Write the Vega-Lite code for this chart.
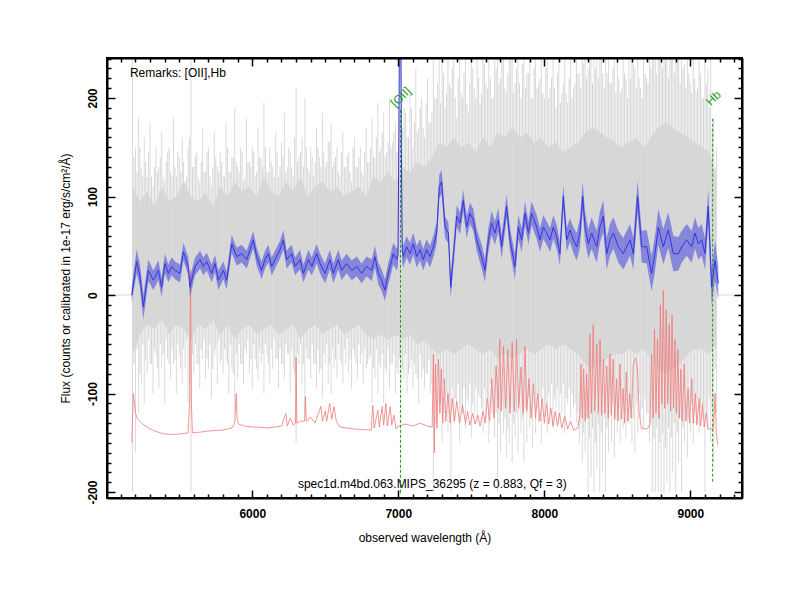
{
"$schema":"https://vega.github.io/schema/vega-lite/v6.json",
"width":635,"height":440,
"autosize":{"type":"none"},
"padding":{"left":107,"top":58,"right":58,"bottom":102},
"background":"white",
"config":{"view":{"stroke":"black","strokeWidth":2},"font":"Liberation Sans"},
"datasets":{
"core":[{"w":5180,"lo":-60,"hi":110},{"w":5230,"lo":-40,"hi":95},{"w":5280,"lo":-30,"hi":105},{"w":5330,"lo":-35,"hi":90},{"w":5380,"lo":-25,"hi":110},{"w":5430,"lo":-40,"hi":95},{"w":5480,"lo":-30,"hi":100},{"w":5530,"lo":-35,"hi":115},{"w":5580,"lo":-45,"hi":100},{"w":5630,"lo":-30,"hi":95},{"w":5680,"lo":-35,"hi":105},{"w":5730,"lo":-25,"hi":90},{"w":5780,"lo":-40,"hi":110},{"w":5830,"lo":-30,"hi":100},{"w":5880,"lo":-45,"hi":115},{"w":5930,"lo":-35,"hi":105},{"w":5980,"lo":-30,"hi":110},{"w":6030,"lo":-40,"hi":100},{"w":6080,"lo":-35,"hi":120},{"w":6130,"lo":-30,"hi":105},{"w":6180,"lo":-40,"hi":100},{"w":6230,"lo":-35,"hi":115},{"w":6280,"lo":-30,"hi":105},{"w":6330,"lo":-45,"hi":120},{"w":6380,"lo":-35,"hi":100},{"w":6430,"lo":-30,"hi":110},{"w":6480,"lo":-40,"hi":115},{"w":6530,"lo":-35,"hi":105},{"w":6580,"lo":-30,"hi":110},{"w":6630,"lo":-40,"hi":100},{"w":6680,"lo":-35,"hi":105},{"w":6730,"lo":-30,"hi":110},{"w":6780,"lo":-40,"hi":100},{"w":6830,"lo":-45,"hi":120},{"w":6880,"lo":-40,"hi":115},{"w":6930,"lo":-45,"hi":125},{"w":6980,"lo":-40,"hi":115},{"w":7030,"lo":-45,"hi":130},{"w":7080,"lo":-40,"hi":125},{"w":7130,"lo":-50,"hi":135},{"w":7180,"lo":-45,"hi":130},{"w":7230,"lo":-55,"hi":140},{"w":7280,"lo":-60,"hi":155},{"w":7330,"lo":-55,"hi":150},{"w":7380,"lo":-60,"hi":160},{"w":7430,"lo":-55,"hi":150},{"w":7480,"lo":-50,"hi":155},{"w":7530,"lo":-55,"hi":145},{"w":7580,"lo":-60,"hi":160},{"w":7630,"lo":-55,"hi":150},{"w":7680,"lo":-65,"hi":165},{"w":7730,"lo":-60,"hi":160},{"w":7780,"lo":-65,"hi":170},{"w":7830,"lo":-60,"hi":160},{"w":7880,"lo":-55,"hi":165},{"w":7930,"lo":-60,"hi":155},{"w":7980,"lo":-55,"hi":160},{"w":8030,"lo":-50,"hi":150},{"w":8080,"lo":-55,"hi":155},{"w":8130,"lo":-50,"hi":145},{"w":8180,"lo":-55,"hi":150},{"w":8230,"lo":-60,"hi":155},{"w":8280,"lo":-70,"hi":165},{"w":8330,"lo":-75,"hi":170},{"w":8380,"lo":-70,"hi":165},{"w":8430,"lo":-65,"hi":160},{"w":8480,"lo":-60,"hi":155},{"w":8530,"lo":-60,"hi":150},{"w":8580,"lo":-55,"hi":155},{"w":8630,"lo":-60,"hi":160},{"w":8680,"lo":-55,"hi":150},{"w":8730,"lo":-65,"hi":160},{"w":8780,"lo":-75,"hi":170},{"w":8830,"lo":-80,"hi":175},{"w":8880,"lo":-75,"hi":170},{"w":8930,"lo":-70,"hi":165},{"w":8980,"lo":-60,"hi":160},{"w":9030,"lo":-55,"hi":155},{"w":9080,"lo":-55,"hi":150},{"w":9130,"lo":-60,"hi":145},{"w":9180,"lo":-50,"hi":120}],
"spk":[{"w":5180,"lo":-200,"hi":240},{"w":5200,"lo":-160,"hi":150},{"w":5220,"lo":-120,"hi":180},{"w":5240,"lo":-90,"hi":130},{"w":5260,"lo":-110,"hi":160},{"w":5280,"lo":-80,"hi":120},{"w":5300,"lo":-70,"hi":175},{"w":5320,"lo":-100,"hi":110},{"w":5340,"lo":-60,"hi":150},{"w":5360,"lo":-95,"hi":130},{"w":5380,"lo":-75,"hi":165},{"w":5400,"lo":-110,"hi":115},{"w":5420,"lo":-65,"hi":145},{"w":5440,"lo":-85,"hi":125},{"w":5460,"lo":-70,"hi":180},{"w":5480,"lo":-100,"hi":120},{"w":5500,"lo":-60,"hi":140},{"w":5520,"lo":-90,"hi":160},{"w":5540,"lo":-75,"hi":115},{"w":5560,"lo":-110,"hi":150},{"w":5580,"lo":-200,"hi":240},{"w":5600,"lo":-80,"hi":130},{"w":5620,"lo":-70,"hi":145},{"w":5640,"lo":-95,"hi":115},{"w":5660,"lo":-65,"hi":170},{"w":5680,"lo":-85,"hi":125},{"w":5700,"lo":-75,"hi":150},{"w":5720,"lo":-105,"hi":110},{"w":5740,"lo":-60,"hi":165},{"w":5760,"lo":-90,"hi":130},{"w":5780,"lo":-70,"hi":145},{"w":5800,"lo":-80,"hi":120},{"w":5820,"lo":-65,"hi":175},{"w":5840,"lo":-100,"hi":125},{"w":5860,"lo":-75,"hi":140},{"w":5880,"lo":-120,"hi":190},{"w":5900,"lo":-85,"hi":130},{"w":5920,"lo":-70,"hi":150},{"w":5940,"lo":-90,"hi":115},{"w":5960,"lo":-60,"hi":180},{"w":5980,"lo":-80,"hi":135},{"w":6000,"lo":-95,"hi":150},{"w":6020,"lo":-65,"hi":120},{"w":6040,"lo":-85,"hi":170},{"w":6060,"lo":-70,"hi":140},{"w":6080,"lo":-100,"hi":195},{"w":6100,"lo":-60,"hi":125},{"w":6120,"lo":-90,"hi":150},{"w":6140,"lo":-75,"hi":130},{"w":6160,"lo":-65,"hi":165},{"w":6180,"lo":-95,"hi":120},{"w":6200,"lo":-70,"hi":155},{"w":6220,"lo":-85,"hi":185},{"w":6240,"lo":-60,"hi":130},{"w":6260,"lo":-100,"hi":145},{"w":6280,"lo":-75,"hi":120},{"w":6300,"lo":-150,"hi":210},{"w":6320,"lo":-70,"hi":140},{"w":6340,"lo":-90,"hi":160},{"w":6360,"lo":-120,"hi":200},{"w":6380,"lo":-65,"hi":130},{"w":6400,"lo":-85,"hi":150},{"w":6420,"lo":-70,"hi":120},{"w":6440,"lo":-95,"hi":170},{"w":6460,"lo":-80,"hi":140},{"w":6480,"lo":-105,"hi":185},{"w":6500,"lo":-70,"hi":130},{"w":6520,"lo":-90,"hi":155},{"w":6540,"lo":-100,"hi":175},{"w":6560,"lo":-75,"hi":135},{"w":6580,"lo":-85,"hi":150},{"w":6600,"lo":-65,"hi":120},{"w":6620,"lo":-90,"hi":165},{"w":6640,"lo":-70,"hi":130},{"w":6660,"lo":-80,"hi":145},{"w":6680,"lo":-95,"hi":115},{"w":6700,"lo":-60,"hi":160},{"w":6720,"lo":-85,"hi":130},{"w":6740,"lo":-70,"hi":150},{"w":6760,"lo":-90,"hi":120},{"w":6780,"lo":-75,"hi":170},{"w":6800,"lo":-65,"hi":135},{"w":6820,"lo":-110,"hi":180},{"w":6840,"lo":-85,"hi":140},{"w":6860,"lo":-100,"hi":195},{"w":6880,"lo":-75,"hi":150},{"w":6900,"lo":-110,"hi":185},{"w":6920,"lo":-80,"hi":145},{"w":6940,"lo":-95,"hi":200},{"w":6960,"lo":-70,"hi":155},{"w":6980,"lo":-100,"hi":175},{"w":7000,"lo":-80,"hi":150},{"w":7020,"lo":-90,"hi":240},{"w":7040,"lo":-85,"hi":190},{"w":7060,"lo":-100,"hi":160},{"w":7080,"lo":-75,"hi":210},{"w":7100,"lo":-95,"hi":150},{"w":7120,"lo":-80,"hi":230},{"w":7140,"lo":-110,"hi":170},{"w":7160,"lo":-85,"hi":200},{"w":7180,"lo":-95,"hi":160},{"w":7200,"lo":-80,"hi":220},{"w":7220,"lo":-100,"hi":175},{"w":7240,"lo":-200,"hi":240},{"w":7260,"lo":-130,"hi":200},{"w":7280,"lo":-110,"hi":240},{"w":7300,"lo":-150,"hi":240},{"w":7320,"lo":-120,"hi":190},{"w":7340,"lo":-140,"hi":240},{"w":7360,"lo":-200,"hi":210},{"w":7380,"lo":-130,"hi":240},{"w":7400,"lo":-110,"hi":180},{"w":7420,"lo":-150,"hi":240},{"w":7440,"lo":-120,"hi":200},{"w":7460,"lo":-135,"hi":240},{"w":7480,"lo":-110,"hi":185},{"w":7500,"lo":-145,"hi":240},{"w":7520,"lo":-120,"hi":210},{"w":7540,"lo":-130,"hi":240},{"w":7560,"lo":-105,"hi":195},{"w":7580,"lo":-140,"hi":240},{"w":7600,"lo":-125,"hi":215},{"w":7620,"lo":-150,"hi":240},{"w":7640,"lo":-120,"hi":200},{"w":7660,"lo":-145,"hi":240},{"w":7680,"lo":-200,"hi":240},{"w":7700,"lo":-160,"hi":220},{"w":7720,"lo":-140,"hi":240},{"w":7740,"lo":-165,"hi":205},{"w":7760,"lo":-150,"hi":240},{"w":7780,"lo":-170,"hi":240},{"w":7800,"lo":-145,"hi":215},{"w":7820,"lo":-160,"hi":240},{"w":7840,"lo":-140,"hi":200},{"w":7860,"lo":-170,"hi":240},{"w":7880,"lo":-150,"hi":225},{"w":7900,"lo":-135,"hi":240},{"w":7920,"lo":-155,"hi":200},{"w":7940,"lo":-140,"hi":240},{"w":7960,"lo":-130,"hi":215},{"w":7980,"lo":-150,"hi":240},{"w":8000,"lo":-125,"hi":200},{"w":8020,"lo":-140,"hi":240},{"w":8040,"lo":-120,"hi":210},{"w":8060,"lo":-135,"hi":240},{"w":8080,"lo":-115,"hi":190},{"w":8100,"lo":-130,"hi":240},{"w":8120,"lo":-120,"hi":205},{"w":8140,"lo":-140,"hi":240},{"w":8160,"lo":-110,"hi":195},{"w":8180,"lo":-125,"hi":240},{"w":8200,"lo":-115,"hi":210},{"w":8220,"lo":-130,"hi":240},{"w":8240,"lo":-150,"hi":225},{"w":8260,"lo":-170,"hi":240},{"w":8280,"lo":-160,"hi":240},{"w":8300,"lo":-200,"hi":230},{"w":8320,"lo":-185,"hi":240},{"w":8340,"lo":-200,"hi":240},{"w":8360,"lo":-175,"hi":240},{"w":8380,"lo":-200,"hi":240},{"w":8400,"lo":-180,"hi":225},{"w":8420,"lo":-200,"hi":240},{"w":8440,"lo":-160,"hi":240},{"w":8460,"lo":-150,"hi":215},{"w":8480,"lo":-165,"hi":240},{"w":8500,"lo":-140,"hi":240},{"w":8520,"lo":-150,"hi":205},{"w":8540,"lo":-135,"hi":240},{"w":8560,"lo":-145,"hi":220},{"w":8580,"lo":-130,"hi":240},{"w":8600,"lo":-150,"hi":240},{"w":8620,"lo":-160,"hi":230},{"w":8640,"lo":-140,"hi":240},{"w":8660,"lo":-125,"hi":210},{"w":8680,"lo":-135,"hi":240},{"w":8700,"lo":-120,"hi":220},{"w":8720,"lo":-150,"hi":240},{"w":8740,"lo":-200,"hi":240},{"w":8760,"lo":-200,"hi":240},{"w":8780,"lo":-200,"hi":240},{"w":8800,"lo":-200,"hi":240},{"w":8820,"lo":-200,"hi":240},{"w":8840,"lo":-190,"hi":240},{"w":8860,"lo":-200,"hi":240},{"w":8880,"lo":-180,"hi":240},{"w":8900,"lo":-200,"hi":240},{"w":8920,"lo":-170,"hi":240},{"w":8940,"lo":-200,"hi":240},{"w":8960,"lo":-150,"hi":235},{"w":8980,"lo":-165,"hi":240},{"w":9000,"lo":-140,"hi":215},{"w":9020,"lo":-150,"hi":240},{"w":9040,"lo":-130,"hi":205},{"w":9060,"lo":-140,"hi":240},{"w":9080,"lo":-125,"hi":200},{"w":9100,"lo":-200,"hi":240},{"w":9120,"lo":-135,"hi":230},{"w":9140,"lo":-150,"hi":240},{"w":9160,"lo":-170,"hi":180},{"w":9180,"lo":-120,"hi":150}],
"spk2":[{"w":5190,"lo":-70,"hi":140},{"w":5210,"lo":-55,"hi":125},{"w":5230,"lo":-80,"hi":150},{"w":5250,"lo":-50,"hi":120},{"w":5270,"lo":-65,"hi":135},{"w":5290,"lo":-45,"hi":145},{"w":5310,"lo":-70,"hi":120},{"w":5330,"lo":-55,"hi":130},{"w":5350,"lo":-75,"hi":125},{"w":5370,"lo":-50,"hi":140},{"w":5390,"lo":-60,"hi":120},{"w":5410,"lo":-45,"hi":135},{"w":5430,"lo":-70,"hi":150},{"w":5450,"lo":-55,"hi":120},{"w":5470,"lo":-65,"hi":130},{"w":5490,"lo":-50,"hi":145},{"w":5510,"lo":-75,"hi":125},{"w":5530,"lo":-55,"hi":135},{"w":5550,"lo":-45,"hi":120},{"w":5570,"lo":-90,"hi":160},{"w":5590,"lo":-60,"hi":130},{"w":5610,"lo":-50,"hi":140},{"w":5630,"lo":-70,"hi":120},{"w":5650,"lo":-55,"hi":135},{"w":5670,"lo":-45,"hi":125},{"w":5690,"lo":-65,"hi":145},{"w":5710,"lo":-50,"hi":120},{"w":5730,"lo":-75,"hi":130},{"w":5750,"lo":-55,"hi":140},{"w":5770,"lo":-45,"hi":125},{"w":5790,"lo":-65,"hi":135},{"w":5810,"lo":-55,"hi":120},{"w":5830,"lo":-70,"hi":150},{"w":5850,"lo":-50,"hi":125},{"w":5870,"lo":-80,"hi":140},{"w":5890,"lo":-60,"hi":135},{"w":5910,"lo":-50,"hi":125},{"w":5930,"lo":-70,"hi":145},{"w":5950,"lo":-55,"hi":120},{"w":5970,"lo":-45,"hi":135},{"w":5990,"lo":-65,"hi":130},{"w":6010,"lo":-50,"hi":145},{"w":6030,"lo":-75,"hi":125},{"w":6050,"lo":-55,"hi":140},{"w":6070,"lo":-60,"hi":130},{"w":6090,"lo":-50,"hi":150},{"w":6110,"lo":-70,"hi":125},{"w":6130,"lo":-55,"hi":135},{"w":6150,"lo":-45,"hi":120},{"w":6170,"lo":-65,"hi":145},{"w":6190,"lo":-55,"hi":130},{"w":6210,"lo":-70,"hi":140},{"w":6230,"lo":-50,"hi":125},{"w":6250,"lo":-60,"hi":150},{"w":6270,"lo":-55,"hi":130},{"w":6290,"lo":-80,"hi":160},{"w":6310,"lo":-60,"hi":135},{"w":6330,"lo":-50,"hi":145},{"w":6350,"lo":-70,"hi":130},{"w":6370,"lo":-55,"hi":150},{"w":6390,"lo":-65,"hi":125},{"w":6410,"lo":-50,"hi":140},{"w":6430,"lo":-70,"hi":135},{"w":6450,"lo":-55,"hi":150},{"w":6470,"lo":-75,"hi":130},{"w":6490,"lo":-60,"hi":145},{"w":6510,"lo":-50,"hi":135},{"w":6530,"lo":-70,"hi":155},{"w":6550,"lo":-55,"hi":130},{"w":6570,"lo":-65,"hi":140},{"w":6590,"lo":-50,"hi":125},{"w":6610,"lo":-70,"hi":145},{"w":6630,"lo":-55,"hi":130},{"w":6650,"lo":-45,"hi":140},{"w":6670,"lo":-65,"hi":125},{"w":6690,"lo":-55,"hi":150},{"w":6710,"lo":-70,"hi":130},{"w":6730,"lo":-50,"hi":140},{"w":6750,"lo":-60,"hi":125},{"w":6770,"lo":-55,"hi":145},{"w":6790,"lo":-70,"hi":135},{"w":6810,"lo":-60,"hi":150},{"w":6830,"lo":-75,"hi":140},{"w":6850,"lo":-55,"hi":160},{"w":6870,"lo":-70,"hi":145},{"w":6890,"lo":-60,"hi":165},{"w":6910,"lo":-75,"hi":140},{"w":6930,"lo":-55,"hi":155},{"w":6950,"lo":-70,"hi":150},{"w":6970,"lo":-60,"hi":165},{"w":6990,"lo":-75,"hi":145},{"w":7010,"lo":-65,"hi":180},{"w":7030,"lo":-75,"hi":170},{"w":7050,"lo":-60,"hi":185},{"w":7070,"lo":-80,"hi":160},{"w":7090,"lo":-65,"hi":190},{"w":7110,"lo":-70,"hi":175},{"w":7130,"lo":-85,"hi":165},{"w":7150,"lo":-60,"hi":190},{"w":7170,"lo":-75,"hi":170},{"w":7190,"lo":-80,"hi":195},{"w":7210,"lo":-65,"hi":175},{"w":7230,"lo":-90,"hi":185},{"w":7250,"lo":-100,"hi":200},{"w":7270,"lo":-85,"hi":215},{"w":7290,"lo":-110,"hi":195},{"w":7310,"lo":-90,"hi":225},{"w":7330,"lo":-100,"hi":205},{"w":7350,"lo":-120,"hi":215},{"w":7370,"lo":-95,"hi":230},{"w":7390,"lo":-105,"hi":200},{"w":7410,"lo":-90,"hi":220},{"w":7430,"lo":-115,"hi":205},{"w":7450,"lo":-95,"hi":225},{"w":7470,"lo":-105,"hi":195},{"w":7490,"lo":-90,"hi":215},{"w":7510,"lo":-110,"hi":230},{"w":7530,"lo":-95,"hi":200},{"w":7550,"lo":-100,"hi":220},{"w":7570,"lo":-115,"hi":205},{"w":7590,"lo":-95,"hi":235},{"w":7610,"lo":-105,"hi":210},{"w":7630,"lo":-90,"hi":220},{"w":7650,"lo":-110,"hi":200},{"w":7670,"lo":-120,"hi":230},{"w":7690,"lo":-130,"hi":215},{"w":7710,"lo":-110,"hi":240},{"w":7730,"lo":-125,"hi":210},{"w":7750,"lo":-135,"hi":225},{"w":7770,"lo":-115,"hi":240},{"w":7790,"lo":-130,"hi":205},{"w":7810,"lo":-120,"hi":230},{"w":7830,"lo":-110,"hi":215},{"w":7850,"lo":-125,"hi":235},{"w":7870,"lo":-115,"hi":210},{"w":7890,"lo":-105,"hi":225},{"w":7910,"lo":-120,"hi":200},{"w":7930,"lo":-100,"hi":230},{"w":7950,"lo":-115,"hi":210},{"w":7970,"lo":-105,"hi":220},{"w":7990,"lo":-95,"hi":205},{"w":8010,"lo":-110,"hi":230},{"w":8030,"lo":-100,"hi":200},{"w":8050,"lo":-90,"hi":220},{"w":8070,"lo":-105,"hi":210},{"w":8090,"lo":-95,"hi":225},{"w":8110,"lo":-100,"hi":195},{"w":8130,"lo":-90,"hi":215},{"w":8150,"lo":-105,"hi":205},{"w":8170,"lo":-95,"hi":220},{"w":8190,"lo":-100,"hi":200},{"w":8210,"lo":-110,"hi":215},{"w":8230,"lo":-120,"hi":225},{"w":8250,"lo":-130,"hi":210},{"w":8270,"lo":-140,"hi":235},{"w":8290,"lo":-125,"hi":220},{"w":8310,"lo":-145,"hi":240},{"w":8330,"lo":-135,"hi":215},{"w":8350,"lo":-150,"hi":230},{"w":8370,"lo":-130,"hi":220},{"w":8390,"lo":-140,"hi":240},{"w":8410,"lo":-125,"hi":210},{"w":8430,"lo":-135,"hi":225},{"w":8450,"lo":-120,"hi":215},{"w":8470,"lo":-110,"hi":230},{"w":8490,"lo":-125,"hi":205},{"w":8510,"lo":-115,"hi":220},{"w":8530,"lo":-105,"hi":210},{"w":8550,"lo":-120,"hi":225},{"w":8570,"lo":-110,"hi":200},{"w":8590,"lo":-115,"hi":220},{"w":8610,"lo":-125,"hi":235},{"w":8630,"lo":-110,"hi":210},{"w":8650,"lo":-100,"hi":220},{"w":8670,"lo":-115,"hi":200},{"w":8690,"lo":-105,"hi":225},{"w":8710,"lo":-120,"hi":215},{"w":8730,"lo":-130,"hi":230},{"w":8750,"lo":-145,"hi":240},{"w":8770,"lo":-135,"hi":225},{"w":8790,"lo":-150,"hi":240},{"w":8810,"lo":-140,"hi":230},{"w":8830,"lo":-155,"hi":240},{"w":8850,"lo":-135,"hi":220},{"w":8870,"lo":-145,"hi":240},{"w":8890,"lo":-130,"hi":225},{"w":8910,"lo":-140,"hi":240},{"w":8930,"lo":-125,"hi":215},{"w":8950,"lo":-135,"hi":230},{"w":8970,"lo":-115,"hi":210},{"w":8990,"lo":-125,"hi":225},{"w":9010,"lo":-110,"hi":205},{"w":9030,"lo":-120,"hi":220},{"w":9050,"lo":-105,"hi":210},{"w":9070,"lo":-115,"hi":225},{"w":9090,"lo":-110,"hi":200},{"w":9110,"lo":-120,"hi":215},{"w":9130,"lo":-105,"hi":190},{"w":9150,"lo":-115,"hi":170},{"w":9170,"lo":-75,"hi":130}],
"zero":[{"w":5005,"w2":5176,"v":0},{"w":9192,"w2":9354,"v":0}],
"sky":[{"w":5175,"v":-150},{"w":5185,"v":-100},{"w":5200,"v":-120},{"w":5215,"v":-126},{"w":5250,"v":-131},{"w":5300,"v":-136},{"w":5350,"v":-139},{"w":5400,"v":-141},{"w":5450,"v":-141.5},{"w":5500,"v":-141},{"w":5560,"v":-140},{"w":5571,"v":-110},{"w":5577,"v":25},{"w":5583,"v":-110},{"w":5590,"v":-140},{"w":5650,"v":-139},{"w":5700,"v":-138},{"w":5800,"v":-137},{"w":5860,"v":-135},{"w":5880,"v":-130},{"w":5890,"v":-100},{"w":5896,"v":-125},{"w":5905,"v":-131},{"w":5950,"v":-133},{"w":6000,"v":-134},{"w":6050,"v":-134},{"w":6100,"v":-135},{"w":6150,"v":-134},{"w":6200,"v":-133},{"w":6230,"v":-120},{"w":6240,"v":-133},{"w":6260,"v":-125},{"w":6280,"v":-132},{"w":6296,"v":-130},{"w":6300,"v":-63},{"w":6305,"v":-130},{"w":6330,"v":-128},{"w":6358,"v":-128},{"w":6364,"v":-103},{"w":6370,"v":-128},{"w":6400,"v":-124},{"w":6430,"v":-130},{"w":6470,"v":-113},{"w":6480,"v":-128},{"w":6500,"v":-118},{"w":6510,"v":-128},{"w":6530,"v":-110},{"w":6545,"v":-126},{"w":6560,"v":-113},{"w":6575,"v":-128},{"w":6600,"v":-134},{"w":6700,"v":-136},{"w":6815,"v":-137},{"w":6825,"v":-112},{"w":6835,"v":-135},{"w":6860,"v":-117},{"w":6870,"v":-134},{"w":6890,"v":-113},{"w":6900,"v":-132},{"w":6915,"v":-110},{"w":6925,"v":-133},{"w":6945,"v":-113},{"w":6955,"v":-132},{"w":6970,"v":-122},{"w":6985,"v":-136},{"w":7000,"v":-133},{"w":7050,"v":-131},{"w":7100,"v":-133},{"w":7150,"v":-130},{"w":7200,"v":-133},{"w":7232,"v":-134},{"w":7240,"v":-60},{"w":7247,"v":-160},{"w":7255,"v":-70},{"w":7265,"v":-135},{"w":7275,"v":-65},{"w":7285,"v":-120},{"w":7295,"v":-75},{"w":7305,"v":-130},{"w":7315,"v":-85},{"w":7325,"v":-128},{"w":7340,"v":-100},{"w":7355,"v":-130},{"w":7370,"v":-105},{"w":7385,"v":-128},{"w":7400,"v":-108},{"w":7420,"v":-130},{"w":7440,"v":-112},{"w":7460,"v":-130},{"w":7475,"v":-118},{"w":7490,"v":-132},{"w":7510,"v":-120},{"w":7525,"v":-131},{"w":7545,"v":-122},{"w":7560,"v":-133},{"w":7580,"v":-118},{"w":7595,"v":-130},{"w":7610,"v":-105},{"w":7625,"v":-128},{"w":7640,"v":-85},{"w":7655,"v":-125},{"w":7670,"v":-72},{"w":7685,"v":-115},{"w":7695,"v":-45},{"w":7705,"v":-118},{"w":7720,"v":-52},{"w":7735,"v":-115},{"w":7750,"v":-55},{"w":7765,"v":-120},{"w":7780,"v":-48},{"w":7795,"v":-118},{"w":7810,"v":-45},{"w":7825,"v":-115},{"w":7840,"v":-73},{"w":7855,"v":-120},{"w":7868,"v":-52},{"w":7880,"v":-118},{"w":7895,"v":-85},{"w":7910,"v":-125},{"w":7926,"v":-90},{"w":7940,"v":-125},{"w":7955,"v":-100},{"w":7970,"v":-128},{"w":7985,"v":-105},{"w":8000,"v":-130},{"w":8015,"v":-110},{"w":8030,"v":-131},{"w":8045,"v":-115},{"w":8060,"v":-133},{"w":8075,"v":-118},{"w":8090,"v":-133},{"w":8105,"v":-120},{"w":8120,"v":-135},{"w":8140,"v":-123},{"w":8160,"v":-136},{"w":8180,"v":-128},{"w":8200,"v":-137},{"w":8230,"v":-135},{"w":8244,"v":-120},{"w":8252,"v":-70},{"w":8260,"v":-125},{"w":8270,"v":-75},{"w":8280,"v":-128},{"w":8290,"v":-80},{"w":8300,"v":-125},{"w":8312,"v":-40},{"w":8322,"v":-120},{"w":8335,"v":-30},{"w":8345,"v":-118},{"w":8360,"v":-50},{"w":8370,"v":-120},{"w":8382,"v":-45},{"w":8392,"v":-122},{"w":8405,"v":-65},{"w":8415,"v":-120},{"w":8428,"v":-72},{"w":8438,"v":-125},{"w":8450,"v":-60},{"w":8460,"v":-122},{"w":8472,"v":-65},{"w":8482,"v":-126},{"w":8495,"v":-85},{"w":8505,"v":-128},{"w":8518,"v":-70},{"w":8528,"v":-126},{"w":8540,"v":-95},{"w":8550,"v":-130},{"w":8562,"v":-78},{"w":8572,"v":-128},{"w":8585,"v":-100},{"w":8595,"v":-125},{"w":8610,"v":-70},{"w":8625,"v":-64},{"w":8638,"v":-75},{"w":8650,"v":-120},{"w":8665,"v":-135},{"w":8690,"v":-136},{"w":8710,"v":-135},{"w":8724,"v":-132},{"w":8735,"v":-60},{"w":8745,"v":-125},{"w":8755,"v":-35},{"w":8765,"v":-120},{"w":8775,"v":-45},{"w":8785,"v":-125},{"w":8795,"v":-10},{"w":8805,"v":-110},{"w":8815,"v":5},{"w":8825,"v":-115},{"w":8835,"v":-15},{"w":8845,"v":-110},{"w":8855,"v":-30},{"w":8865,"v":-118},{"w":8875,"v":-20},{"w":8885,"v":-115},{"w":8895,"v":-45},{"w":8905,"v":-120},{"w":8915,"v":-55},{"w":8925,"v":-125},{"w":8935,"v":-75},{"w":8945,"v":-128},{"w":8958,"v":-70},{"w":8970,"v":-128},{"w":8985,"v":-95},{"w":8995,"v":-130},{"w":9010,"v":-85},{"w":9020,"v":-130},{"w":9035,"v":-100},{"w":9045,"v":-132},{"w":9060,"v":-105},{"w":9070,"v":-133},{"w":9085,"v":-110},{"w":9095,"v":-134},{"w":9110,"v":-120},{"w":9120,"v":-136},{"w":9140,"v":-136},{"w":9158,"v":-135},{"w":9170,"v":-100},{"w":9178,"v":-140},{"w":9188,"v":-152}],
"smooth":[{"w":5174,"v":0,"lo":-8,"hi":8},{"w":5208,"v":34,"lo":22,"hi":46},{"w":5230,"v":20,"lo":8,"hi":32},{"w":5254,"v":-12,"lo":-25,"hi":0},{"w":5288,"v":25,"lo":14,"hi":36},{"w":5322,"v":15,"lo":5,"hi":25},{"w":5357,"v":25,"lo":15,"hi":35},{"w":5379,"v":8,"lo":-2,"hi":18},{"w":5402,"v":32,"lo":22,"hi":42},{"w":5425,"v":22,"lo":13,"hi":31},{"w":5448,"v":29,"lo":20,"hi":38},{"w":5471,"v":25,"lo":16,"hi":34},{"w":5505,"v":22,"lo":13,"hi":31},{"w":5528,"v":44,"lo":35,"hi":53},{"w":5562,"v":29,"lo":20,"hi":38},{"w":5573,"v":8,"lo":-2,"hi":18},{"w":5608,"v":29,"lo":20,"hi":38},{"w":5642,"v":36,"lo":27,"hi":45},{"w":5665,"v":29,"lo":20,"hi":38},{"w":5688,"v":34,"lo":25,"hi":43},{"w":5722,"v":22,"lo":13,"hi":31},{"w":5745,"v":32,"lo":23,"hi":41},{"w":5767,"v":15,"lo":5,"hi":25},{"w":5802,"v":25,"lo":16,"hi":34},{"w":5825,"v":15,"lo":6,"hi":24},{"w":5859,"v":52,"lo":43,"hi":61},{"w":5893,"v":39,"lo":30,"hi":48},{"w":5927,"v":42,"lo":33,"hi":51},{"w":5962,"v":36,"lo":27,"hi":45},{"w":5984,"v":46,"lo":37,"hi":55},{"w":6007,"v":56,"lo":47,"hi":65},{"w":6030,"v":39,"lo":30,"hi":48},{"w":6064,"v":25,"lo":16,"hi":34},{"w":6087,"v":36,"lo":27,"hi":45},{"w":6110,"v":42,"lo":33,"hi":51},{"w":6133,"v":29,"lo":20,"hi":38},{"w":6156,"v":36,"lo":27,"hi":45},{"w":6190,"v":46,"lo":37,"hi":55},{"w":6213,"v":56,"lo":46,"hi":66},{"w":6235,"v":36,"lo":27,"hi":45},{"w":6270,"v":42,"lo":33,"hi":51},{"w":6293,"v":29,"lo":20,"hi":38},{"w":6327,"v":36,"lo":26,"hi":46},{"w":6350,"v":22,"lo":13,"hi":31},{"w":6384,"v":36,"lo":26,"hi":46},{"w":6407,"v":29,"lo":20,"hi":38},{"w":6441,"v":42,"lo":32,"hi":52},{"w":6464,"v":32,"lo":22,"hi":42},{"w":6498,"v":22,"lo":12,"hi":32},{"w":6532,"v":36,"lo":26,"hi":46},{"w":6555,"v":22,"lo":12,"hi":32},{"w":6589,"v":36,"lo":26,"hi":46},{"w":6612,"v":25,"lo":15,"hi":35},{"w":6646,"v":32,"lo":22,"hi":42},{"w":6681,"v":25,"lo":15,"hi":35},{"w":6715,"v":29,"lo":19,"hi":39},{"w":6749,"v":22,"lo":12,"hi":32},{"w":6783,"v":29,"lo":19,"hi":39},{"w":6818,"v":25,"lo":14,"hi":36},{"w":6840,"v":39,"lo":28,"hi":50},{"w":6863,"v":22,"lo":11,"hi":33},{"w":6886,"v":15,"lo":4,"hi":26},{"w":6909,"v":5,"lo":-6,"hi":16},{"w":6932,"v":22,"lo":11,"hi":33},{"w":6966,"v":42,"lo":31,"hi":53},{"w":6989,"v":36,"lo":25,"hi":47},{"w":6998,"v":40,"lo":30,"hi":50},{"w":7004,"v":160,"lo":130,"hi":190},{"w":7009,"v":300,"lo":250,"hi":350},{"w":7016,"v":300,"lo":250,"hi":350},{"w":7021,"v":150,"lo":120,"hi":180},{"w":7027,"v":45,"lo":34,"hi":56},{"w":7034,"v":39,"lo":28,"hi":50},{"w":7057,"v":49,"lo":38,"hi":60},{"w":7080,"v":42,"lo":31,"hi":53},{"w":7103,"v":52,"lo":41,"hi":63},{"w":7126,"v":39,"lo":28,"hi":50},{"w":7149,"v":46,"lo":35,"hi":57},{"w":7171,"v":36,"lo":25,"hi":47},{"w":7194,"v":46,"lo":35,"hi":57},{"w":7217,"v":39,"lo":28,"hi":50},{"w":7240,"v":49,"lo":38,"hi":60},{"w":7263,"v":63,"lo":52,"hi":74},{"w":7281,"v":110,"lo":98,"hi":122},{"w":7297,"v":115,"lo":103,"hi":127},{"w":7320,"v":69,"lo":58,"hi":80},{"w":7343,"v":63,"lo":52,"hi":74},{"w":7359,"v":8,"lo":-4,"hi":20},{"w":7377,"v":39,"lo":28,"hi":50},{"w":7400,"v":80,"lo":69,"hi":91},{"w":7423,"v":73,"lo":62,"hi":84},{"w":7445,"v":96,"lo":85,"hi":107},{"w":7468,"v":69,"lo":58,"hi":80},{"w":7491,"v":83,"lo":72,"hi":94},{"w":7514,"v":76,"lo":65,"hi":87},{"w":7537,"v":56,"lo":45,"hi":67},{"w":7571,"v":39,"lo":27,"hi":51},{"w":7594,"v":25,"lo":13,"hi":37},{"w":7617,"v":56,"lo":44,"hi":68},{"w":7639,"v":73,"lo":61,"hi":85},{"w":7662,"v":63,"lo":51,"hi":75},{"w":7685,"v":76,"lo":64,"hi":88},{"w":7708,"v":49,"lo":37,"hi":61},{"w":7742,"v":90,"lo":78,"hi":102},{"w":7765,"v":56,"lo":44,"hi":68},{"w":7799,"v":29,"lo":16,"hi":42},{"w":7822,"v":69,"lo":57,"hi":81},{"w":7845,"v":56,"lo":44,"hi":68},{"w":7868,"v":83,"lo":71,"hi":95},{"w":7891,"v":63,"lo":51,"hi":75},{"w":7913,"v":83,"lo":71,"hi":95},{"w":7948,"v":69,"lo":57,"hi":81},{"w":7970,"v":56,"lo":44,"hi":68},{"w":7993,"v":69,"lo":57,"hi":81},{"w":8016,"v":63,"lo":51,"hi":75},{"w":8039,"v":56,"lo":44,"hi":68},{"w":8062,"v":69,"lo":57,"hi":81},{"w":8085,"v":59,"lo":47,"hi":71},{"w":8107,"v":42,"lo":30,"hi":54},{"w":8130,"v":100,"lo":88,"hi":112},{"w":8153,"v":56,"lo":44,"hi":68},{"w":8176,"v":66,"lo":54,"hi":78},{"w":8199,"v":56,"lo":43,"hi":69},{"w":8222,"v":49,"lo":35,"hi":63},{"w":8244,"v":63,"lo":48,"hi":78},{"w":8263,"v":100,"lo":85,"hi":115},{"w":8279,"v":69,"lo":54,"hi":84},{"w":8302,"v":52,"lo":37,"hi":67},{"w":8324,"v":63,"lo":47,"hi":79},{"w":8359,"v":49,"lo":33,"hi":65},{"w":8381,"v":69,"lo":53,"hi":85},{"w":8404,"v":80,"lo":64,"hi":96},{"w":8427,"v":42,"lo":26,"hi":58},{"w":8450,"v":56,"lo":40,"hi":72},{"w":8473,"v":63,"lo":47,"hi":79},{"w":8507,"v":49,"lo":33,"hi":65},{"w":8541,"v":42,"lo":26,"hi":58},{"w":8587,"v":56,"lo":40,"hi":72},{"w":8610,"v":42,"lo":26,"hi":58},{"w":8639,"v":100,"lo":84,"hi":116},{"w":8667,"v":49,"lo":33,"hi":65},{"w":8701,"v":49,"lo":32,"hi":66},{"w":8735,"v":22,"lo":4,"hi":40},{"w":8758,"v":42,"lo":24,"hi":60},{"w":8781,"v":69,"lo":51,"hi":87},{"w":8815,"v":49,"lo":31,"hi":67},{"w":8849,"v":66,"lo":48,"hi":84},{"w":8884,"v":42,"lo":24,"hi":60},{"w":8918,"v":42,"lo":25,"hi":59},{"w":8941,"v":49,"lo":33,"hi":65},{"w":8975,"v":56,"lo":40,"hi":72},{"w":9009,"v":49,"lo":33,"hi":65},{"w":9032,"v":63,"lo":47,"hi":79},{"w":9055,"v":52,"lo":36,"hi":68},{"w":9078,"v":56,"lo":40,"hi":72},{"w":9101,"v":42,"lo":26,"hi":58},{"w":9123,"v":90,"lo":72,"hi":108},{"w":9146,"v":8,"lo":-10,"hi":26},{"w":9169,"v":35,"lo":15,"hi":55},{"w":9192,"v":12,"lo":-5,"hi":29}],
"lines":[{"w":7015,"top":188,"bot":-203},{"w":9153,"top":179,"bot":-190}],
"linelab":[{"w":7017,"v":201,"t":"[OII]"},{"w":9158,"v":200,"t":"Hb"}],
"remark":[{"w":5162,"v":225,"t":"Remarks: [OII],Hb"}],
"caption":[{"w":7233,"v":-192,"t":"spec1d.m4bd.063.MIPS_36295 (z = 0.883, Qf = 3)"}]
},
"layer":[
{"data":{"name":"core"},"mark":{"type":"area","color":"#d6d6d6","clip":true},
"encoding":{
"x":{"field":"w","type":"quantitative","scale":{"domain":[5005,9354],"nice":false,"zero":false},
"axis":{"orient":"bottom","values":[5100,5200,5300,5400,5500,5600,5700,5800,5900,6000,6100,6200,6300,6400,6500,6600,6700,6800,6900,7000,7100,7200,7300,7400,7500,7600,7700,7800,7900,8000,8100,8200,8300,8400,8500,8600,8700,8800,8900,9000,9100,9200,9300],
"tickSize":{"condition":{"test":"datum.value % 1000 === 0","value":-8},"value":-4},"tickColor":"black","tickWidth":1.5,"domainColor":"black","domainWidth":2,"grid":false,"zindex":1,
"labelExpr":"datum.value % 1000 === 0 ? '' + datum.value : ''","labelFont":"Liberation Sans","labelFontSize":12,"labelFontWeight":"bold","labelColor":"black","labelPadding":18.5,"labelFlush":false,"labelOverlap":false,"labelBound":false,
"title":"observed wavelength (Å)","titleFont":"Liberation Sans","titleFontSize":12,"titleFontWeight":"normal","titleColor":"black","titleX":317.5,"titleY":39.5,"titleBaseline":"middle","titleAlign":"center"}},
"y":{"field":"lo","type":"quantitative","scale":{"domain":[-206,240.6],"nice":false,"zero":false},
"axis":{"orient":"left","values":[-200,-190,-180,-170,-160,-150,-140,-130,-120,-110,-100,-90,-80,-70,-60,-50,-40,-30,-20,-10,0,10,20,30,40,50,60,70,80,90,100,110,120,130,140,150,160,170,180,190,200,210,220,230,240],
"tickSize":{"condition":{"test":"datum.value % 100 === 0","value":-8},"value":-4},"tickColor":"black","tickWidth":1.5,"domainColor":"black","domainWidth":2,"grid":false,"zindex":1,
"labelExpr":"datum.value % 100 === 0 ? '' + datum.value : ''","labelAngle":-90,"labelAlign":"center","labelBaseline":"middle","labelFont":"Liberation Sans","labelFontSize":12,"labelFontWeight":"bold","labelColor":"black","labelPadding":22.5,"labelFlush":false,"labelOverlap":false,"labelBound":false,
"title":"Flux (counts or calibrated in 1e-17 erg/s/cm²/Å)","titleFont":"Liberation Sans","titleFontSize":12,"titleFontWeight":"normal","titleColor":"black","titleAngle":-90,"titleX":-42,"titleY":220,"titleBaseline":"middle","titleAlign":"center"}},
"y2":{"field":"hi"}}},
{"data":{"name":"spk2"},"mark":{"type":"rule","color":"#d6d6d6","strokeWidth":1,"clip":true},
"encoding":{
"x":{"field":"w","type":"quantitative","scale":{"domain":[5005,9354],"nice":false,"zero":false},"axis":null},
"y":{"field":"lo","type":"quantitative","scale":{"domain":[-206,240.6],"nice":false,"zero":false},"axis":null},
"y2":{"field":"hi"}}},
{"data":{"name":"spk"},"mark":{"type":"rule","color":"#dadada","strokeWidth":1,"clip":true},
"encoding":{
"x":{"field":"w","type":"quantitative","scale":{"domain":[5005,9354],"nice":false,"zero":false},
"axis":{"orient":"top","values":[5100,5200,5300,5400,5500,5600,5700,5800,5900,6000,6100,6200,6300,6400,6500,6600,6700,6800,6900,7000,7100,7200,7300,7400,7500,7600,7700,7800,7900,8000,8100,8200,8300,8400,8500,8600,8700,8800,8900,9000,9100,9200,9300],
"tickSize":{"condition":{"test":"datum.value % 1000 === 0","value":-8},"value":-4},"tickColor":"black","tickWidth":1.5,"domainColor":"black","domainWidth":2,"grid":false,"zindex":1,"labels":false,"title":null}},
"y":{"field":"lo","type":"quantitative","scale":{"domain":[-206,240.6],"nice":false,"zero":false},
"axis":{"orient":"right","values":[-200,-190,-180,-170,-160,-150,-140,-130,-120,-110,-100,-90,-80,-70,-60,-50,-40,-30,-20,-10,0,10,20,30,40,50,60,70,80,90,100,110,120,130,140,150,160,170,180,190,200,210,220,230,240],
"tickSize":{"condition":{"test":"datum.value % 100 === 0","value":-8},"value":-4},"tickColor":"black","tickWidth":1.5,"domainColor":"black","domainWidth":2,"grid":false,"zindex":1,"labels":false,"title":null}},
"y2":{"field":"hi"}}},
{"data":{"name":"zero"},"mark":{"type":"rule","color":"#d8d8d8","strokeWidth":1,"clip":true},
"encoding":{
"x":{"field":"w","type":"quantitative","scale":{"domain":[5005,9354],"nice":false,"zero":false},"axis":null},
"x2":{"field":"w2"},
"y":{"field":"v","type":"quantitative","scale":{"domain":[-206,240.6],"nice":false,"zero":false},"axis":null}}},
{"data":{"name":"sky"},"mark":{"type":"line","color":"#f27a7a","strokeWidth":0.8,"clip":true},
"encoding":{
"x":{"field":"w","type":"quantitative","scale":{"domain":[5005,9354],"nice":false,"zero":false},"axis":null},
"y":{"field":"v","type":"quantitative","scale":{"domain":[-206,240.6],"nice":false,"zero":false},"axis":null}}},
{"data":{"name":"smooth"},"mark":{"type":"area","color":"#4444dd","opacity":0.55,"clip":true},
"encoding":{
"x":{"field":"w","type":"quantitative","scale":{"domain":[5005,9354],"nice":false,"zero":false},"axis":null},
"y":{"field":"lo","type":"quantitative","scale":{"domain":[-206,240.6],"nice":false,"zero":false},"axis":null},
"y2":{"field":"hi"}}},
{"data":{"name":"smooth"},"mark":{"type":"line","color":"#3535e0","strokeWidth":1,"clip":true},
"encoding":{
"x":{"field":"w","type":"quantitative","scale":{"domain":[5005,9354],"nice":false,"zero":false},"axis":null},
"y":{"field":"v","type":"quantitative","scale":{"domain":[-206,240.6],"nice":false,"zero":false},"axis":null}}},
{"data":{"name":"lines"},"mark":{"type":"rule","color":"#1e9a1e","strokeWidth":1,"strokeDash":[3,2],"clip":true},
"encoding":{
"x":{"field":"w","type":"quantitative","scale":{"domain":[5005,9354],"nice":false,"zero":false},"axis":null},
"y":{"field":"top","type":"quantitative","scale":{"domain":[-206,240.6],"nice":false,"zero":false},"axis":null},
"y2":{"field":"bot"}}},
{"data":{"name":"linelab"},"mark":{"type":"text","color":"#1e9a1e","font":"Liberation Sans","fontSize":12,"angle":-45,"align":"center","baseline":"middle"},
"encoding":{
"x":{"field":"w","type":"quantitative","scale":{"domain":[5005,9354],"nice":false,"zero":false},"axis":null},
"y":{"field":"v","type":"quantitative","scale":{"domain":[-206,240.6],"nice":false,"zero":false},"axis":null},
"text":{"field":"t"}}},
{"data":{"name":"remark"},"mark":{"type":"text","color":"black","font":"Liberation Sans","fontSize":12,"align":"left","baseline":"middle"},
"encoding":{
"x":{"field":"w","type":"quantitative","scale":{"domain":[5005,9354],"nice":false,"zero":false},"axis":null},
"y":{"field":"v","type":"quantitative","scale":{"domain":[-206,240.6],"nice":false,"zero":false},"axis":null},
"text":{"field":"t"}}},
{"data":{"name":"caption"},"mark":{"type":"text","color":"black","font":"Liberation Sans","fontSize":12,"align":"center","baseline":"middle"},
"encoding":{
"x":{"field":"w","type":"quantitative","scale":{"domain":[5005,9354],"nice":false,"zero":false},"axis":null},
"y":{"field":"v","type":"quantitative","scale":{"domain":[-206,240.6],"nice":false,"zero":false},"axis":null},
"text":{"field":"t"}}}
],
"resolve":{"axis":{"x":"independent","y":"independent"}}
}
